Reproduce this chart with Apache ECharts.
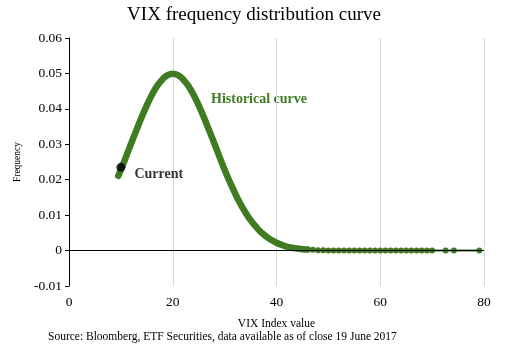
<!DOCTYPE html>
<html><head><meta charset="utf-8">
<script src="https://cdn.jsdelivr.net/npm/echarts@6/dist/echarts.min.js"></script>
<style>html,body{margin:0;padding:0;background:#fff}#c{width:508px;height:355px}</style>
</head><body><div id="c"></div>
<script>
var titleText = 'VIX frequency distribution curve';
var sourceText = 'Source: Bloomberg, ETF Securities, data available as of close 19 June 2017';
var curveX = [9.5,10,11,12,13,14,15,16,17,18,19,20,21,22,23,24,25,26,27,28,29,30,31,32,33,34,35,36,37,38,39,40,41,42,43,44,45,46];
var curveY = [0.0211,0.0228,0.0265,0.0303,0.0340,0.0376,0.0410,0.0440,0.0465,0.0483,0.0495,0.0499,0.0495,0.0483,0.0465,0.0440,0.0410,0.0376,0.0340,0.0303,0.0265,0.0228,0.0194,0.0162,0.0133,0.0108,0.0086,0.0068,0.0052,0.0040,0.0030,0.0022,0.0016,0.0011,0.0008,0.0006,0.0004,0.0003];
var tailX = [46,47,48,49,50,51,52,53,54,55,56,57,58,59,60,61,62,63,64,65,66,67,68,69,70,72.6,74.2,79.1];
var tailY = [0.0003,0.0002,0.0001,0.0001,0,0,0,0,0,0,0,0,0,0,0,0,0,0,0,0,0,0,0,0,0,0,0,0];
var currentX = 10, currentY = 0.0235;
var xTicks = [0,20,40,60,80];
var yMin = -0.01, yMax = 0.06, yStep = 0.01;
var green = '#3e7b21';
var ff = '"Liberation Serif","DejaVu Serif",serif';

function zip(a,b){return a.map(function(v,i){return [v,b[i]];});}
var chart = echarts.init(document.getElementById('c'));
chart.setOption({
  animation:false,
  backgroundColor:'#fff',
  title:{text:titleText,left:'center',top:1,textStyle:{fontFamily:ff,fontSize:19,fontWeight:'normal',color:'#000'}},
  grid:{left:69,right:24,top:38,bottom:69},
  xAxis:{type:'value',min:xTicks[0],max:xTicks[xTicks.length-1],interval:20,
    name:'VIX Index value',nameLocation:'middle',nameGap:32,
    nameTextStyle:{fontFamily:ff,fontSize:11.5,color:'#000'},
    axisLine:{show:false},axisTick:{show:false},
    axisLabel:{fontFamily:ff,fontSize:13.5,color:'#000',margin:9},
    splitLine:{show:true,lineStyle:{color:'#d9d9d9',width:1}}},
  yAxis:{type:'value',min:yMin,max:yMax,interval:yStep,
    name:'Frequency',nameLocation:'middle',nameGap:43,
    nameTextStyle:{fontFamily:ff,fontSize:9.5,color:'#000'},
    axisLine:{show:true,lineStyle:{color:'#000',width:1}},
    axisTick:{show:true,length:4,lineStyle:{color:'#000'}},
    axisLabel:{fontFamily:ff,fontSize:13.5,color:'#000',margin:7,
      formatter:function(v){return String(Math.round(v*100)/100);}},
    splitLine:{show:false}},
  series:[
    {type:'line',name:'Historical curve',data:zip(curveX,curveY),showSymbol:false,smooth:true,
      lineStyle:{color:green,width:6.5,cap:'round'},itemStyle:{color:green},z:3,
      markLine:{silent:true,symbol:'none',label:{show:false},
        lineStyle:{color:'#000',width:1.2,type:'solid'},data:[{yAxis:0}]}},
    {type:'line',name:'tail',data:zip(tailX,tailY),symbol:'circle',symbolSize:6,showSymbol:true,
      lineStyle:{color:green,width:2},itemStyle:{color:green},z:3},
    {type:'scatter',name:'Current',data:[[currentX,currentY]],symbolSize:9,
      itemStyle:{color:'#000'},z:5,
      label:{show:true,formatter:'Current',position:'right',distance:9,offset:[0,7],
        fontFamily:ff,fontSize:14,fontWeight:'bold',color:'#000'}}
  ],
  graphic:[
    {type:'text',left:211,top:92,style:{text:'Historical curve',fontFamily:ff,fontSize:14,fontWeight:'bold',fill:green}},
    {type:'text',left:48,top:331,style:{text:sourceText,fontFamily:ff,fontSize:11.5,fill:'#000'}}
  ]
});
</script></body></html>
